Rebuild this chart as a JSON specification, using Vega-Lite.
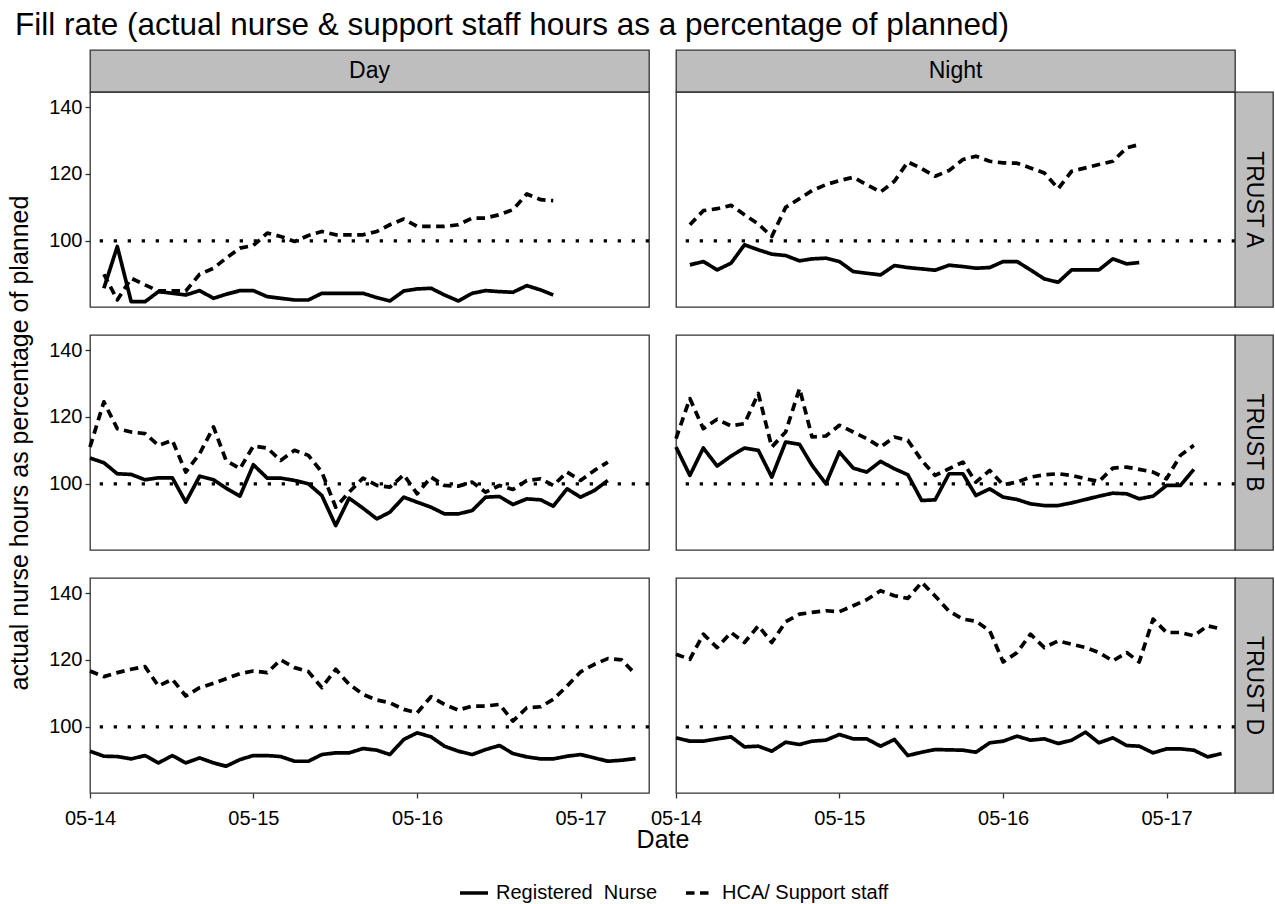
{
  "$schema": "https://vega.github.io/schema/vega-lite/v6.json",
  "title": {"text": "Fill rate (actual nurse & support staff hours as a percentage of planned)", "dx": 8},
  "background": "white",
  "autosize": {"type": "pad"},
  "padding": {"left": 6, "top": 9, "right": 3, "bottom": 3},
  "columns": 4,
  "spacing": 0,
  "bounds": "flush",
  "datasets": {
    "staffing": [
      {"trust":"A","shift":"Day","month":"2014-06-01","nurse":85.8,"hca":90.0},
      {"trust":"A","shift":"Day","month":"2014-07-01","nurse":98.3,"hca":82.3},
      {"trust":"A","shift":"Day","month":"2014-08-01","nurse":81.8,"hca":88.8},
      {"trust":"A","shift":"Day","month":"2014-09-01","nurse":81.8,"hca":86.8},
      {"trust":"A","shift":"Day","month":"2014-10-01","nurse":84.8,"hca":85.0},
      {"trust":"A","shift":"Day","month":"2014-11-01","nurse":84.3,"hca":85.0},
      {"trust":"A","shift":"Day","month":"2014-12-01","nurse":83.8,"hca":85.0},
      {"trust":"A","shift":"Day","month":"2015-01-01","nurse":85.1,"hca":90.0},
      {"trust":"A","shift":"Day","month":"2015-02-01","nurse":82.8,"hca":91.8},
      {"trust":"A","shift":"Day","month":"2015-03-01","nurse":84.0,"hca":94.8},
      {"trust":"A","shift":"Day","month":"2015-04-01","nurse":85.1,"hca":97.8},
      {"trust":"A","shift":"Day","month":"2015-05-01","nurse":85.1,"hca":98.6},
      {"trust":"A","shift":"Day","month":"2015-06-01","nurse":83.3,"hca":102.3},
      {"trust":"A","shift":"Day","month":"2015-07-01","nurse":82.8,"hca":101.3},
      {"trust":"A","shift":"Day","month":"2015-08-01","nurse":82.3,"hca":99.8},
      {"trust":"A","shift":"Day","month":"2015-09-01","nurse":82.3,"hca":101.6},
      {"trust":"A","shift":"Day","month":"2015-10-01","nurse":84.3,"hca":102.8},
      {"trust":"A","shift":"Day","month":"2015-11-01","nurse":84.3,"hca":101.8},
      {"trust":"A","shift":"Day","month":"2015-12-01","nurse":84.3,"hca":101.8},
      {"trust":"A","shift":"Day","month":"2016-01-01","nurse":84.3,"hca":101.8},
      {"trust":"A","shift":"Day","month":"2016-02-01","nurse":83.0,"hca":102.8},
      {"trust":"A","shift":"Day","month":"2016-03-01","nurse":82.0,"hca":104.8},
      {"trust":"A","shift":"Day","month":"2016-04-01","nurse":85.0,"hca":106.5},
      {"trust":"A","shift":"Day","month":"2016-05-01","nurse":85.6,"hca":104.3},
      {"trust":"A","shift":"Day","month":"2016-06-01","nurse":85.8,"hca":104.3},
      {"trust":"A","shift":"Day","month":"2016-07-01","nurse":83.8,"hca":104.3},
      {"trust":"A","shift":"Day","month":"2016-08-01","nurse":82.0,"hca":104.8},
      {"trust":"A","shift":"Day","month":"2016-09-01","nurse":84.3,"hca":106.8},
      {"trust":"A","shift":"Day","month":"2016-10-01","nurse":85.1,"hca":106.8},
      {"trust":"A","shift":"Day","month":"2016-11-01","nurse":84.8,"hca":107.8},
      {"trust":"A","shift":"Day","month":"2016-12-01","nurse":84.6,"hca":109.3},
      {"trust":"A","shift":"Day","month":"2017-01-01","nurse":86.6,"hca":114.0},
      {"trust":"A","shift":"Day","month":"2017-02-01","nurse":85.3,"hca":112.3},
      {"trust":"A","shift":"Day","month":"2017-03-01","nurse":83.8,"hca":112.0},

      {"trust":"A","shift":"Night","month":"2014-06-01","nurse":92.8,"hca":104.8},
      {"trust":"A","shift":"Night","month":"2014-07-01","nurse":93.8,"hca":109.0},
      {"trust":"A","shift":"Night","month":"2014-08-01","nurse":91.3,"hca":109.6},
      {"trust":"A","shift":"Night","month":"2014-09-01","nurse":93.3,"hca":110.6},
      {"trust":"A","shift":"Night","month":"2014-10-01","nurse":98.8,"hca":107.8},
      {"trust":"A","shift":"Night","month":"2014-11-01","nurse":97.3,"hca":105.0},
      {"trust":"A","shift":"Night","month":"2014-12-01","nurse":96.0,"hca":101.3},
      {"trust":"A","shift":"Night","month":"2015-01-01","nurse":95.6,"hca":110.0},
      {"trust":"A","shift":"Night","month":"2015-02-01","nurse":94.0,"hca":112.6},
      {"trust":"A","shift":"Night","month":"2015-03-01","nurse":94.6,"hca":115.0},
      {"trust":"A","shift":"Night","month":"2015-04-01","nurse":94.8,"hca":116.8},
      {"trust":"A","shift":"Night","month":"2015-05-01","nurse":93.8,"hca":118.0},
      {"trust":"A","shift":"Night","month":"2015-06-01","nurse":90.8,"hca":119.0},
      {"trust":"A","shift":"Night","month":"2015-07-01","nurse":90.3,"hca":116.8},
      {"trust":"A","shift":"Night","month":"2015-08-01","nurse":89.8,"hca":114.6},
      {"trust":"A","shift":"Night","month":"2015-09-01","nurse":92.6,"hca":117.8},
      {"trust":"A","shift":"Night","month":"2015-10-01","nurse":92.0,"hca":123.6},
      {"trust":"A","shift":"Night","month":"2015-11-01","nurse":91.6,"hca":121.6},
      {"trust":"A","shift":"Night","month":"2015-12-01","nurse":91.2,"hca":119.3},
      {"trust":"A","shift":"Night","month":"2016-01-01","nurse":92.7,"hca":121.0},
      {"trust":"A","shift":"Night","month":"2016-02-01","nurse":92.3,"hca":124.3},
      {"trust":"A","shift":"Night","month":"2016-03-01","nurse":91.8,"hca":125.3},
      {"trust":"A","shift":"Night","month":"2016-04-01","nurse":92.0,"hca":123.8},
      {"trust":"A","shift":"Night","month":"2016-05-01","nurse":93.8,"hca":123.3},
      {"trust":"A","shift":"Night","month":"2016-06-01","nurse":93.8,"hca":123.2},
      {"trust":"A","shift":"Night","month":"2016-07-01","nurse":91.3,"hca":121.8},
      {"trust":"A","shift":"Night","month":"2016-08-01","nurse":88.6,"hca":120.3},
      {"trust":"A","shift":"Night","month":"2016-09-01","nurse":87.6,"hca":115.6},
      {"trust":"A","shift":"Night","month":"2016-10-01","nurse":91.3,"hca":120.8},
      {"trust":"A","shift":"Night","month":"2016-11-01","nurse":91.3,"hca":121.8},
      {"trust":"A","shift":"Night","month":"2016-12-01","nurse":91.3,"hca":122.8},
      {"trust":"A","shift":"Night","month":"2017-01-01","nurse":94.6,"hca":123.8},
      {"trust":"A","shift":"Night","month":"2017-02-01","nurse":93.1,"hca":127.8},
      {"trust":"A","shift":"Night","month":"2017-03-01","nurse":93.5,"hca":128.8},

      {"trust":"B","shift":"Day","month":"2014-05-01","nurse":107.7,"hca":111.0},
      {"trust":"B","shift":"Day","month":"2014-06-01","nurse":106.3,"hca":124.5},
      {"trust":"B","shift":"Day","month":"2014-07-01","nurse":103.0,"hca":116.5},
      {"trust":"B","shift":"Day","month":"2014-08-01","nurse":102.8,"hca":115.5},
      {"trust":"B","shift":"Day","month":"2014-09-01","nurse":101.2,"hca":115.0},
      {"trust":"B","shift":"Day","month":"2014-10-01","nurse":101.8,"hca":111.5},
      {"trust":"B","shift":"Day","month":"2014-11-01","nurse":101.8,"hca":113.0},
      {"trust":"B","shift":"Day","month":"2014-12-01","nurse":94.5,"hca":103.5},
      {"trust":"B","shift":"Day","month":"2015-01-01","nurse":102.3,"hca":109.0},
      {"trust":"B","shift":"Day","month":"2015-02-01","nurse":101.2,"hca":117.0},
      {"trust":"B","shift":"Day","month":"2015-03-01","nurse":98.7,"hca":107.0},
      {"trust":"B","shift":"Day","month":"2015-04-01","nurse":96.3,"hca":104.5},
      {"trust":"B","shift":"Day","month":"2015-05-01","nurse":105.7,"hca":111.3},
      {"trust":"B","shift":"Day","month":"2015-06-01","nurse":101.7,"hca":110.7},
      {"trust":"B","shift":"Day","month":"2015-07-01","nurse":101.7,"hca":107.0},
      {"trust":"B","shift":"Day","month":"2015-08-01","nurse":101.0,"hca":110.0},
      {"trust":"B","shift":"Day","month":"2015-09-01","nurse":100.0,"hca":108.5},
      {"trust":"B","shift":"Day","month":"2015-10-01","nurse":96.5,"hca":103.5},
      {"trust":"B","shift":"Day","month":"2015-11-01","nurse":87.5,"hca":93.0},
      {"trust":"B","shift":"Day","month":"2015-12-01","nurse":95.7,"hca":97.5},
      {"trust":"B","shift":"Day","month":"2016-01-01","nurse":92.7,"hca":101.7},
      {"trust":"B","shift":"Day","month":"2016-02-01","nurse":89.5,"hca":99.5},
      {"trust":"B","shift":"Day","month":"2016-03-01","nurse":91.5,"hca":99.0},
      {"trust":"B","shift":"Day","month":"2016-04-01","nurse":96.0,"hca":102.7},
      {"trust":"B","shift":"Day","month":"2016-05-01","nurse":94.5,"hca":97.0},
      {"trust":"B","shift":"Day","month":"2016-06-01","nurse":93.0,"hca":102.0},
      {"trust":"B","shift":"Day","month":"2016-07-01","nurse":91.0,"hca":99.5},
      {"trust":"B","shift":"Day","month":"2016-08-01","nurse":91.0,"hca":99.3},
      {"trust":"B","shift":"Day","month":"2016-09-01","nurse":92.0,"hca":100.5},
      {"trust":"B","shift":"Day","month":"2016-10-01","nurse":96.0,"hca":97.5},
      {"trust":"B","shift":"Day","month":"2016-11-01","nurse":96.2,"hca":99.5},
      {"trust":"B","shift":"Day","month":"2016-12-01","nurse":93.8,"hca":98.3},
      {"trust":"B","shift":"Day","month":"2017-01-01","nurse":95.5,"hca":101.0},
      {"trust":"B","shift":"Day","month":"2017-02-01","nurse":95.2,"hca":101.5},
      {"trust":"B","shift":"Day","month":"2017-03-01","nurse":93.3,"hca":99.5},
      {"trust":"B","shift":"Day","month":"2017-04-01","nurse":98.5,"hca":103.5},
      {"trust":"B","shift":"Day","month":"2017-05-01","nurse":96.0,"hca":101.0},
      {"trust":"B","shift":"Day","month":"2017-06-01","nurse":98.0,"hca":104.0},
      {"trust":"B","shift":"Day","month":"2017-07-01","nurse":101.0,"hca":106.5},

      {"trust":"B","shift":"Night","month":"2014-05-01","nurse":111.0,"hca":113.5},
      {"trust":"B","shift":"Night","month":"2014-06-01","nurse":102.5,"hca":125.5},
      {"trust":"B","shift":"Night","month":"2014-07-01","nurse":110.7,"hca":116.5},
      {"trust":"B","shift":"Night","month":"2014-08-01","nurse":105.3,"hca":119.3},
      {"trust":"B","shift":"Night","month":"2014-09-01","nurse":108.3,"hca":117.3},
      {"trust":"B","shift":"Night","month":"2014-10-01","nurse":110.7,"hca":118.0},
      {"trust":"B","shift":"Night","month":"2014-11-01","nurse":110.0,"hca":127.0},
      {"trust":"B","shift":"Night","month":"2014-12-01","nurse":102.0,"hca":111.0},
      {"trust":"B","shift":"Night","month":"2015-01-01","nurse":112.5,"hca":115.5},
      {"trust":"B","shift":"Night","month":"2015-02-01","nurse":111.8,"hca":128.5},
      {"trust":"B","shift":"Night","month":"2015-03-01","nurse":105.5,"hca":114.0},
      {"trust":"B","shift":"Night","month":"2015-04-01","nurse":100.0,"hca":114.3},
      {"trust":"B","shift":"Night","month":"2015-05-01","nurse":109.5,"hca":117.5},
      {"trust":"B","shift":"Night","month":"2015-06-01","nurse":104.7,"hca":115.5},
      {"trust":"B","shift":"Night","month":"2015-07-01","nurse":103.5,"hca":113.5},
      {"trust":"B","shift":"Night","month":"2015-08-01","nurse":106.7,"hca":111.0},
      {"trust":"B","shift":"Night","month":"2015-09-01","nurse":104.5,"hca":114.0},
      {"trust":"B","shift":"Night","month":"2015-10-01","nurse":102.7,"hca":113.0},
      {"trust":"B","shift":"Night","month":"2015-11-01","nurse":95.0,"hca":107.0},
      {"trust":"B","shift":"Night","month":"2015-12-01","nurse":95.2,"hca":102.5},
      {"trust":"B","shift":"Night","month":"2016-01-01","nurse":103.0,"hca":104.5},
      {"trust":"B","shift":"Night","month":"2016-02-01","nurse":103.0,"hca":106.5},
      {"trust":"B","shift":"Night","month":"2016-03-01","nurse":96.5,"hca":100.5},
      {"trust":"B","shift":"Night","month":"2016-04-01","nurse":98.5,"hca":104.0},
      {"trust":"B","shift":"Night","month":"2016-05-01","nurse":96.0,"hca":99.7},
      {"trust":"B","shift":"Night","month":"2016-06-01","nurse":95.3,"hca":100.5},
      {"trust":"B","shift":"Night","month":"2016-07-01","nurse":94.0,"hca":102.0},
      {"trust":"B","shift":"Night","month":"2016-08-01","nurse":93.5,"hca":102.7},
      {"trust":"B","shift":"Night","month":"2016-09-01","nurse":93.5,"hca":103.0},
      {"trust":"B","shift":"Night","month":"2016-10-01","nurse":94.3,"hca":102.5},
      {"trust":"B","shift":"Night","month":"2016-11-01","nurse":95.3,"hca":101.5},
      {"trust":"B","shift":"Night","month":"2016-12-01","nurse":96.3,"hca":100.7},
      {"trust":"B","shift":"Night","month":"2017-01-01","nurse":97.2,"hca":104.7},
      {"trust":"B","shift":"Night","month":"2017-02-01","nurse":97.0,"hca":105.0},
      {"trust":"B","shift":"Night","month":"2017-03-01","nurse":95.5,"hca":104.3},
      {"trust":"B","shift":"Night","month":"2017-04-01","nurse":96.3,"hca":103.5},
      {"trust":"B","shift":"Night","month":"2017-05-01","nurse":99.5,"hca":101.5},
      {"trust":"B","shift":"Night","month":"2017-06-01","nurse":99.5,"hca":108.5},
      {"trust":"B","shift":"Night","month":"2017-07-01","nurse":104.3,"hca":111.5},

      {"trust":"D","shift":"Day","month":"2014-05-01","nurse":92.7,"hca":116.7},
      {"trust":"D","shift":"Day","month":"2014-06-01","nurse":91.2,"hca":115.0},
      {"trust":"D","shift":"Day","month":"2014-07-01","nurse":91.1,"hca":116.2},
      {"trust":"D","shift":"Day","month":"2014-08-01","nurse":90.4,"hca":117.2},
      {"trust":"D","shift":"Day","month":"2014-09-01","nurse":91.4,"hca":118.0},
      {"trust":"D","shift":"Day","month":"2014-10-01","nurse":89.2,"hca":112.2},
      {"trust":"D","shift":"Day","month":"2014-11-01","nurse":91.4,"hca":114.2},
      {"trust":"D","shift":"Day","month":"2014-12-01","nurse":89.2,"hca":109.2},
      {"trust":"D","shift":"Day","month":"2015-01-01","nurse":90.7,"hca":111.7},
      {"trust":"D","shift":"Day","month":"2015-02-01","nurse":89.2,"hca":113.0},
      {"trust":"D","shift":"Day","month":"2015-03-01","nurse":88.2,"hca":114.4},
      {"trust":"D","shift":"Day","month":"2015-04-01","nurse":90.2,"hca":115.9},
      {"trust":"D","shift":"Day","month":"2015-05-01","nurse":91.4,"hca":116.7},
      {"trust":"D","shift":"Day","month":"2015-06-01","nurse":91.4,"hca":116.2},
      {"trust":"D","shift":"Day","month":"2015-07-01","nurse":91.1,"hca":120.0},
      {"trust":"D","shift":"Day","month":"2015-08-01","nurse":89.7,"hca":117.7},
      {"trust":"D","shift":"Day","month":"2015-09-01","nurse":89.7,"hca":116.5},
      {"trust":"D","shift":"Day","month":"2015-10-01","nurse":91.7,"hca":111.7},
      {"trust":"D","shift":"Day","month":"2015-11-01","nurse":92.2,"hca":117.2},
      {"trust":"D","shift":"Day","month":"2015-12-01","nurse":92.2,"hca":112.7},
      {"trust":"D","shift":"Day","month":"2016-01-01","nurse":93.5,"hca":109.7},
      {"trust":"D","shift":"Day","month":"2016-02-01","nurse":93.0,"hca":108.0},
      {"trust":"D","shift":"Day","month":"2016-03-01","nurse":91.7,"hca":107.2},
      {"trust":"D","shift":"Day","month":"2016-04-01","nurse":96.2,"hca":105.2},
      {"trust":"D","shift":"Day","month":"2016-05-01","nurse":98.2,"hca":104.2},
      {"trust":"D","shift":"Day","month":"2016-06-01","nurse":97.0,"hca":109.0},
      {"trust":"D","shift":"Day","month":"2016-07-01","nurse":94.2,"hca":106.7},
      {"trust":"D","shift":"Day","month":"2016-08-01","nurse":92.7,"hca":105.0},
      {"trust":"D","shift":"Day","month":"2016-09-01","nurse":91.7,"hca":106.2},
      {"trust":"D","shift":"Day","month":"2016-10-01","nurse":93.2,"hca":106.2},
      {"trust":"D","shift":"Day","month":"2016-11-01","nurse":94.4,"hca":106.7},
      {"trust":"D","shift":"Day","month":"2016-12-01","nurse":92.0,"hca":101.7},
      {"trust":"D","shift":"Day","month":"2017-01-01","nurse":91.0,"hca":105.7},
      {"trust":"D","shift":"Day","month":"2017-02-01","nurse":90.4,"hca":106.0},
      {"trust":"D","shift":"Day","month":"2017-03-01","nurse":90.4,"hca":108.2},
      {"trust":"D","shift":"Day","month":"2017-04-01","nurse":91.2,"hca":112.2},
      {"trust":"D","shift":"Day","month":"2017-05-01","nurse":91.7,"hca":116.4},
      {"trust":"D","shift":"Day","month":"2017-06-01","nurse":90.7,"hca":118.7},
      {"trust":"D","shift":"Day","month":"2017-07-01","nurse":89.7,"hca":120.4},
      {"trust":"D","shift":"Day","month":"2017-08-01","nurse":90.0,"hca":120.0},
      {"trust":"D","shift":"Day","month":"2017-09-01","nurse":90.5,"hca":115.7},

      {"trust":"D","shift":"Night","month":"2014-05-01","nurse":96.7,"hca":121.7},
      {"trust":"D","shift":"Night","month":"2014-06-01","nurse":95.7,"hca":120.2},
      {"trust":"D","shift":"Night","month":"2014-07-01","nurse":95.7,"hca":127.7},
      {"trust":"D","shift":"Night","month":"2014-08-01","nurse":96.4,"hca":123.7},
      {"trust":"D","shift":"Night","month":"2014-09-01","nurse":97.0,"hca":128.2},
      {"trust":"D","shift":"Night","month":"2014-10-01","nurse":94.0,"hca":125.2},
      {"trust":"D","shift":"Night","month":"2014-11-01","nurse":94.2,"hca":130.2},
      {"trust":"D","shift":"Night","month":"2014-12-01","nurse":92.7,"hca":125.2},
      {"trust":"D","shift":"Night","month":"2015-01-01","nurse":95.4,"hca":131.4},
      {"trust":"D","shift":"Night","month":"2015-02-01","nurse":94.7,"hca":133.7},
      {"trust":"D","shift":"Night","month":"2015-03-01","nurse":95.7,"hca":134.2},
      {"trust":"D","shift":"Night","month":"2015-04-01","nurse":96.0,"hca":134.7},
      {"trust":"D","shift":"Night","month":"2015-05-01","nurse":97.7,"hca":134.4},
      {"trust":"D","shift":"Night","month":"2015-06-01","nurse":96.4,"hca":136.2},
      {"trust":"D","shift":"Night","month":"2015-07-01","nurse":96.4,"hca":138.0},
      {"trust":"D","shift":"Night","month":"2015-08-01","nurse":94.2,"hca":140.7},
      {"trust":"D","shift":"Night","month":"2015-09-01","nurse":96.2,"hca":139.2},
      {"trust":"D","shift":"Night","month":"2015-10-01","nurse":91.4,"hca":138.4},
      {"trust":"D","shift":"Night","month":"2015-11-01","nurse":92.4,"hca":143.2},
      {"trust":"D","shift":"Night","month":"2015-12-01","nurse":93.2,"hca":139.1},
      {"trust":"D","shift":"Night","month":"2016-01-01","nurse":93.1,"hca":134.6},
      {"trust":"D","shift":"Night","month":"2016-02-01","nurse":93.0,"hca":132.2},
      {"trust":"D","shift":"Night","month":"2016-03-01","nurse":92.4,"hca":131.6},
      {"trust":"D","shift":"Night","month":"2016-04-01","nurse":95.2,"hca":128.7},
      {"trust":"D","shift":"Night","month":"2016-05-01","nurse":95.7,"hca":119.4},
      {"trust":"D","shift":"Night","month":"2016-06-01","nurse":97.2,"hca":122.2},
      {"trust":"D","shift":"Night","month":"2016-07-01","nurse":96.0,"hca":127.7},
      {"trust":"D","shift":"Night","month":"2016-08-01","nurse":96.4,"hca":123.7},
      {"trust":"D","shift":"Night","month":"2016-09-01","nurse":95.0,"hca":125.7},
      {"trust":"D","shift":"Night","month":"2016-10-01","nurse":96.0,"hca":124.7},
      {"trust":"D","shift":"Night","month":"2016-11-01","nurse":98.4,"hca":123.7},
      {"trust":"D","shift":"Night","month":"2016-12-01","nurse":95.2,"hca":122.2},
      {"trust":"D","shift":"Night","month":"2017-01-01","nurse":96.7,"hca":119.7},
      {"trust":"D","shift":"Night","month":"2017-02-01","nurse":94.4,"hca":122.2},
      {"trust":"D","shift":"Night","month":"2017-03-01","nurse":94.2,"hca":119.4},
      {"trust":"D","shift":"Night","month":"2017-04-01","nurse":92.2,"hca":132.2},
      {"trust":"D","shift":"Night","month":"2017-05-01","nurse":93.4,"hca":128.2},
      {"trust":"D","shift":"Night","month":"2017-06-01","nurse":93.4,"hca":128.2},
      {"trust":"D","shift":"Night","month":"2017-07-01","nurse":93.0,"hca":127.2},
      {"trust":"D","shift":"Night","month":"2017-08-01","nurse":91.0,"hca":130.2},
      {"trust":"D","shift":"Night","month":"2017-09-01","nurse":92.0,"hca":129.2}
    ]
  },
  "concat": [
    {"width": 559, "height": 42, "view": {"fill": "#bebebe", "stroke": "#333333", "strokeWidth": 1.3},
     "data": {"values": [{"label": "Day"}]},
     "mark": {"type": "text", "fontSize": 23, "color": "black"},
     "encoding": {"text": {"field": "label"}}},
    {"width": 27, "height": 42, "data": {"values": [{"k": 0}]}, "mark": "text", "encoding": {"text": {"value": ""}}},
    {"width": 559, "height": 42, "view": {"fill": "#bebebe", "stroke": "#333333", "strokeWidth": 1.3},
     "data": {"values": [{"label": "Night"}]},
     "mark": {"type": "text", "fontSize": 23, "color": "black"},
     "encoding": {"text": {"field": "label"}}},
    {"width": 38, "height": 42, "data": {"values": [{"k": 0}]}, "mark": "text", "encoding": {"text": {"value": ""}}},

    {"width": 559, "height": 215, "view": {"stroke": "#333333", "strokeWidth": 1.3},
     "layer": [
       {"data": {"values": [{"target": 100}]},
        "mark": {"type": "rule", "color": "black", "strokeWidth": 3.3, "strokeDash": [3.3, 10.7]},
        "encoding": {"y": {"field": "target", "type": "quantitative", "scale": {"domain": [80.2, 144.5], "nice": false, "zero": false}, "axis": {"values": [80, 100, 120, 140], "title": null}}}},
       {"data": {"name": "staffing"},
        "transform": [{"filter": "datum.trust == 'A' && datum.shift == 'Day'"}, {"fold": ["nurse", "hca"], "as": ["staff", "fill"]}],
        "mark": {"type": "line", "color": "black", "strokeWidth": 3.7, "strokeJoin": "round"},
        "encoding": {
          "x": {"field": "month", "type": "temporal", "scale": {"type": "utc", "domain": [{"year": 2014, "month": 5, "date": 1, "utc": true}, {"year": 2017, "month": 10, "date": 1, "utc": true}]}, "axis": null},
          "y": {"field": "fill", "type": "quantitative", "scale": {"domain": [80.2, 144.5], "nice": false, "zero": false}, "axis": {"values": [80, 100, 120, 140], "title": null}},
          "strokeDash": {"field": "staff", "type": "nominal", "scale": {"domain": ["nurse", "hca"], "range": [[1, 0], [8.5, 5.5]]},
            "legend": {"title": null, "orient": "none", "legendX": 368, "legendY": 827, "direction": "horizontal", "symbolType": "stroke", "symbolSize": 784, "symbolStrokeWidth": 3.7, "symbolStrokeColor": "black", "labelFontSize": 20, "labelColor": "black", "labelLimit": 400, "labelOffset": 6, "columnPadding": 20, "labelExpr": "datum.value == 'nurse' ? 'Registered\u00a0 Nurse' : 'HCA/ Support staff'"}}
        }}
     ]},
    {"width": 27, "height": 215, "data": {"values": [{"k": 0}]}, "mark": "text", "encoding": {"text": {"value": ""}}},
    {"width": 559, "height": 215, "view": {"stroke": "#333333", "strokeWidth": 1.3},
     "layer": [
       {"data": {"values": [{"target": 100}]},
        "mark": {"type": "rule", "color": "black", "strokeWidth": 3.3, "strokeDash": [3.3, 10.7]},
        "encoding": {"y": {"field": "target", "type": "quantitative", "scale": {"domain": [80.2, 144.5], "nice": false, "zero": false}, "axis": null}}},
       {"data": {"name": "staffing"},
        "transform": [{"filter": "datum.trust == 'A' && datum.shift == 'Night'"}, {"fold": ["nurse", "hca"], "as": ["staff", "fill"]}],
        "mark": {"type": "line", "color": "black", "strokeWidth": 3.7, "strokeJoin": "round"},
        "encoding": {
          "x": {"field": "month", "type": "temporal", "scale": {"type": "utc", "domain": [{"year": 2014, "month": 5, "date": 1, "utc": true}, {"year": 2017, "month": 10, "date": 1, "utc": true}]}, "axis": null},
          "y": {"field": "fill", "type": "quantitative", "scale": {"domain": [80.2, 144.5], "nice": false, "zero": false}, "axis": null},
          "strokeDash": {"field": "staff", "type": "nominal", "scale": {"domain": ["nurse", "hca"], "range": [[1, 0], [8.5, 5.5]]}, "legend": null}
        }}
     ]},
    {"width": 38, "height": 215, "view": {"fill": "#bebebe", "stroke": "#333333", "strokeWidth": 1.3},
     "data": {"values": [{"label": "TRUST A"}]},
     "mark": {"type": "text", "fontSize": 23, "color": "black", "angle": 90},
     "encoding": {"text": {"field": "label"}}},

    {"width": 559, "height": 28, "data": {"values": [{"k": 0}]}, "mark": "text", "encoding": {"text": {"value": ""}}},
    {"width": 27, "height": 28, "data": {"values": [{"k": 0}]}, "mark": "text", "encoding": {"text": {"value": ""}}},
    {"width": 559, "height": 28, "data": {"values": [{"k": 0}]}, "mark": "text", "encoding": {"text": {"value": ""}}},
    {"width": 38, "height": 28, "data": {"values": [{"k": 0}]}, "mark": "text", "encoding": {"text": {"value": ""}}},

    {"width": 559, "height": 215, "view": {"stroke": "#333333", "strokeWidth": 1.3},
     "layer": [
       {"data": {"values": [{"target": 100}]},
        "mark": {"type": "rule", "color": "black", "strokeWidth": 3.3, "strokeDash": [3.3, 10.7]},
        "encoding": {"y": {"field": "target", "type": "quantitative", "scale": {"domain": [80.2, 144.5], "nice": false, "zero": false}, "axis": {"values": [80, 100, 120, 140], "title": "actual nurse hours as percentage of planned"}}}},
       {"data": {"name": "staffing"},
        "transform": [{"filter": "datum.trust == 'B' && datum.shift == 'Day'"}, {"fold": ["nurse", "hca"], "as": ["staff", "fill"]}],
        "mark": {"type": "line", "color": "black", "strokeWidth": 3.7, "strokeJoin": "round"},
        "encoding": {
          "x": {"field": "month", "type": "temporal", "scale": {"type": "utc", "domain": [{"year": 2014, "month": 5, "date": 1, "utc": true}, {"year": 2017, "month": 10, "date": 1, "utc": true}]}, "axis": null},
          "y": {"field": "fill", "type": "quantitative", "scale": {"domain": [80.2, 144.5], "nice": false, "zero": false}, "axis": {"values": [80, 100, 120, 140], "title": "actual nurse hours as percentage of planned"}},
          "strokeDash": {"field": "staff", "type": "nominal", "scale": {"domain": ["nurse", "hca"], "range": [[1, 0], [8.5, 5.5]]}, "legend": null}
        }}
     ]},
    {"width": 27, "height": 215, "data": {"values": [{"k": 0}]}, "mark": "text", "encoding": {"text": {"value": ""}}},
    {"width": 559, "height": 215, "view": {"stroke": "#333333", "strokeWidth": 1.3},
     "layer": [
       {"data": {"values": [{"target": 100}]},
        "mark": {"type": "rule", "color": "black", "strokeWidth": 3.3, "strokeDash": [3.3, 10.7]},
        "encoding": {"y": {"field": "target", "type": "quantitative", "scale": {"domain": [80.2, 144.5], "nice": false, "zero": false}, "axis": null}}},
       {"data": {"name": "staffing"},
        "transform": [{"filter": "datum.trust == 'B' && datum.shift == 'Night'"}, {"fold": ["nurse", "hca"], "as": ["staff", "fill"]}],
        "mark": {"type": "line", "color": "black", "strokeWidth": 3.7, "strokeJoin": "round"},
        "encoding": {
          "x": {"field": "month", "type": "temporal", "scale": {"type": "utc", "domain": [{"year": 2014, "month": 5, "date": 1, "utc": true}, {"year": 2017, "month": 10, "date": 1, "utc": true}]}, "axis": null},
          "y": {"field": "fill", "type": "quantitative", "scale": {"domain": [80.2, 144.5], "nice": false, "zero": false}, "axis": null},
          "strokeDash": {"field": "staff", "type": "nominal", "scale": {"domain": ["nurse", "hca"], "range": [[1, 0], [8.5, 5.5]]}, "legend": null}
        }}
     ]},
    {"width": 38, "height": 215, "view": {"fill": "#bebebe", "stroke": "#333333", "strokeWidth": 1.3},
     "data": {"values": [{"label": "TRUST B"}]},
     "mark": {"type": "text", "fontSize": 23, "color": "black", "angle": 90},
     "encoding": {"text": {"field": "label"}}},

    {"width": 559, "height": 28, "data": {"values": [{"k": 0}]}, "mark": "text", "encoding": {"text": {"value": ""}}},
    {"width": 27, "height": 28, "data": {"values": [{"k": 0}]}, "mark": "text", "encoding": {"text": {"value": ""}}},
    {"width": 559, "height": 28, "data": {"values": [{"k": 0}]}, "mark": "text", "encoding": {"text": {"value": ""}}},
    {"width": 38, "height": 28, "data": {"values": [{"k": 0}]}, "mark": "text", "encoding": {"text": {"value": ""}}},

    {"width": 559, "height": 215, "view": {"stroke": "#333333", "strokeWidth": 1.3},
     "layer": [
       {"data": {"values": [{"target": 100}]},
        "mark": {"type": "rule", "color": "black", "strokeWidth": 3.3, "strokeDash": [3.3, 10.7]},
        "encoding": {"y": {"field": "target", "type": "quantitative", "scale": {"domain": [80.2, 144.5], "nice": false, "zero": false}, "axis": {"values": [80, 100, 120, 140], "title": null}}}},
       {"data": {"name": "staffing"},
        "transform": [{"filter": "datum.trust == 'D' && datum.shift == 'Day'"}, {"fold": ["nurse", "hca"], "as": ["staff", "fill"]}],
        "mark": {"type": "line", "color": "black", "strokeWidth": 3.7, "strokeJoin": "round"},
        "encoding": {
          "x": {"field": "month", "type": "temporal", "scale": {"type": "utc", "domain": [{"year": 2014, "month": 5, "date": 1, "utc": true}, {"year": 2017, "month": 10, "date": 1, "utc": true}]},
            "axis": {"title": null, "format": "%m-%y", "labelPadding": 10, "values": [{"year": 2014, "month": 5, "date": 1, "utc": true}, {"year": 2015, "month": 5, "date": 1, "utc": true}, {"year": 2016, "month": 5, "date": 1, "utc": true}, {"year": 2017, "month": 5, "date": 1, "utc": true}]}},
          "y": {"field": "fill", "type": "quantitative", "scale": {"domain": [80.2, 144.5], "nice": false, "zero": false}, "axis": {"values": [80, 100, 120, 140], "title": null}},
          "strokeDash": {"field": "staff", "type": "nominal", "scale": {"domain": ["nurse", "hca"], "range": [[1, 0], [8.5, 5.5]]}, "legend": null}
        }}
     ]},
    {"width": 27, "height": 215, "data": {"values": [{"k": 0}]}, "mark": "text",
     "encoding": {"text": {"value": ""},
       "x": {"field": "k", "type": "quantitative", "axis": {"title": "Date", "labels": false, "ticks": false, "domain": false, "titlePadding": 34}}}},
    {"width": 559, "height": 215, "view": {"stroke": "#333333", "strokeWidth": 1.3},
     "layer": [
       {"data": {"values": [{"target": 100}]},
        "mark": {"type": "rule", "color": "black", "strokeWidth": 3.3, "strokeDash": [3.3, 10.7]},
        "encoding": {"y": {"field": "target", "type": "quantitative", "scale": {"domain": [80.2, 144.5], "nice": false, "zero": false}, "axis": null}}},
       {"data": {"name": "staffing"},
        "transform": [{"filter": "datum.trust == 'D' && datum.shift == 'Night'"}, {"fold": ["nurse", "hca"], "as": ["staff", "fill"]}],
        "mark": {"type": "line", "color": "black", "strokeWidth": 3.7, "strokeJoin": "round"},
        "encoding": {
          "x": {"field": "month", "type": "temporal", "scale": {"type": "utc", "domain": [{"year": 2014, "month": 5, "date": 1, "utc": true}, {"year": 2017, "month": 10, "date": 1, "utc": true}]},
            "axis": {"title": null, "format": "%m-%y", "labelPadding": 10, "values": [{"year": 2014, "month": 5, "date": 1, "utc": true}, {"year": 2015, "month": 5, "date": 1, "utc": true}, {"year": 2016, "month": 5, "date": 1, "utc": true}, {"year": 2017, "month": 5, "date": 1, "utc": true}]}},
          "y": {"field": "fill", "type": "quantitative", "scale": {"domain": [80.2, 144.5], "nice": false, "zero": false}, "axis": null},
          "strokeDash": {"field": "staff", "type": "nominal", "scale": {"domain": ["nurse", "hca"], "range": [[1, 0], [8.5, 5.5]]}, "legend": null}
        }}
     ]},
    {"width": 38, "height": 215, "view": {"fill": "#bebebe", "stroke": "#333333", "strokeWidth": 1.3},
     "data": {"values": [{"label": "TRUST D"}]},
     "mark": {"type": "text", "fontSize": 23, "color": "black", "angle": 90},
     "encoding": {"text": {"field": "label"}}}
  ],
  "config": {
    "font": "Liberation Sans",
    "view": {"stroke": null},
    "axis": {"grid": false, "domain": false, "ticks": true, "tickColor": "#333333", "tickSize": 5, "tickWidth": 1.3, "labelColor": "black", "labelFontSize": 20, "labelPadding": 3, "labelFlush": false, "titleColor": "black", "titleFontSize": 25, "titleFontWeight": "normal", "titlePadding": 16},
    "title": {"fontSize": 31.5, "fontWeight": "normal", "anchor": "start", "color": "black", "offset": 8}
  }
}
